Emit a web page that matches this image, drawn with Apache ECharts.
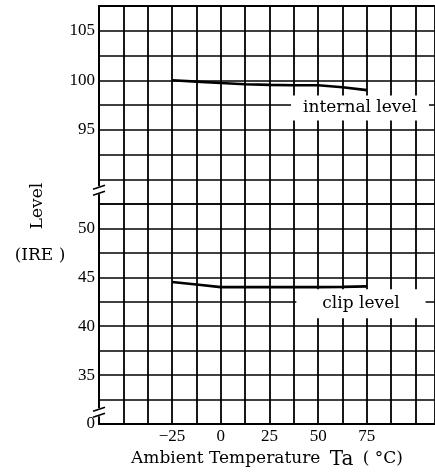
<!DOCTYPE html>
<html><head><meta charset="utf-8">
<script src="https://cdn.jsdelivr.net/npm/echarts/dist/echarts.min.js"></script>
<style>html,body{margin:0;padding:0;background:#fff}#c{width:435px;height:474px}</style>
</head><body><div id="c"></div>
<script>
// ---- data ----
const temps = [-25, -12.5, 0, 12.5, 25, 37.5, 50, 62.5, 75];
const internalLevel = [100.0, 99.86, 99.72, 99.6, 99.53, 99.5, 99.5, 99.3, 99.0];
const clipLevel = [44.52, 44.26, 44.0, 44.0, 44.0, 44.0, 44.0, 44.02, 44.08];
const xTickLabels = {'-25': '\u221225', '0': '0', '25': '25', '50': '50', '75': '75'};
const upperTickLabels = [95, 100, 105];
const lowerTickLabels = [35, 40, 45, 50];
const lowerZeroValue = 30;   // broken axis: the bottom line is labelled 0
const seriesNames = ['internal level', 'clip level'];
const yAxisTitle = 'Level';
const yAxisUnit = '(IRE )';
const xAxisTitle = ['Ambient Temperature', 'Ta', '( \u00b0C)'];

// ---- chart ----
const SERIF = "'DejaVu Serif'";
const NUM = "'Liberation Serif'";
const chart = echarts.init(document.getElementById('c'), null, {renderer: 'canvas'});
const vGrid = {show: true, lineStyle: {color: '#000', width: 1.8}};
const hGrid = {show: true, lineStyle: {color: '#000', width: 1.5}};
const axisLine = {show: true, onZero: false, lineStyle: {color: '#000', width: 2}};
const xBase = {type: 'value', min: -62.5, max: 110, interval: 12.5, axisTick: {show: false}, splitLine: vGrid, axisLine: axisLine};
const yBase = {type: 'value', interval: 2.5, axisTick: {show: false}, splitLine: hGrid, axisLine: axisLine};
const labelStyle = {color: '#000', fontFamily: NUM, fontSize: 17};

chart.setOption({
  animation: false,
  backgroundColor: '#fff',
  grid: [
    {left: 99, right: 0, top: 6, height: 198, outerBoundsMode: 'none', containLabel: false},
    {left: 99, right: 0, top: 204, height: 220, outerBoundsMode: 'none', containLabel: false}
  ],
  xAxis: [
    Object.assign({}, xBase, {gridIndex: 0, position: 'top', axisLabel: {show: false}}),
    Object.assign({}, xBase, {gridIndex: 1, position: 'bottom',
      axisLabel: Object.assign({}, labelStyle, {margin: 4, formatter: v => xTickLabels[String(v)] || ''}),
      name: '{a|' + xAxisTitle[0] + '} {b|' + xAxisTitle[1] + '} {a|' + xAxisTitle[2] + '}',
      nameLocation: 'middle', nameGap: 24,
      nameTextStyle: {rich: {
        a: {fontFamily: SERIF, fontSize: 17, color: '#000', padding: [0, 3, 0, 3]},
        b: {fontFamily: SERIF, fontSize: 20, color: '#000', padding: [2, 3, 0, 3]}
      }}
    })
  ],
  yAxis: [
    Object.assign({}, yBase, {gridIndex: 0, min: 87.5, max: 107.5,
      axisLabel: Object.assign({}, labelStyle, {margin: 4, formatter: v => upperTickLabels.includes(v) ? String(v) : ''})}),
    Object.assign({}, yBase, {gridIndex: 1, min: 30, max: 52.5,
      axisLabel: Object.assign({}, labelStyle, {margin: 4, formatter: v => v === lowerZeroValue ? '0' : (lowerTickLabels.includes(v) ? String(v) : '')})})
  ],
  series: [
    {name: seriesNames[0], type: 'line', xAxisIndex: 0, yAxisIndex: 0, showSymbol: false, silent: true,
     lineStyle: {color: '#000', width: 2.6}, data: temps.map((t, i) => [t, internalLevel[i]]), z: 5},
    {name: seriesNames[1], type: 'line', xAxisIndex: 1, yAxisIndex: 1, showSymbol: false, silent: true,
     lineStyle: {color: '#000', width: 2.6}, data: temps.map((t, i) => [t, clipLevel[i]]), z: 5}
  ]
});

function breakMark(p) {
  const x = p[0], y = p[1];
  return [
    {type: 'rect', z: 100, shape: {x: x - 3, y: y - 4, width: 6, height: 8}, style: {fill: '#fff'}},
    {type: 'line', z: 101, shape: {x1: x - 6, y1: y - 1, x2: x + 6, y2: y - 5}, style: {stroke: '#000', lineWidth: 1.6}},
    {type: 'line', z: 101, shape: {x1: x - 6, y1: y + 5, x2: x + 6, y2: y + 1}, style: {stroke: '#000', lineWidth: 1.6}}
  ];
}
function boxText(text, p, pad) {
  return {type: 'text', z: 100, x: p[0], y: p[1],
    style: {text: text, font: '17px ' + SERIF, fill: '#000', align: 'center', verticalAlign: 'middle',
            backgroundColor: '#fff', padding: pad}};
}
const upBreak = chart.convertToPixel({gridIndex: 0}, [-62.5, 88.9]);
const lowBreak = chart.convertToPixel({gridIndex: 1}, [-62.5, 31.2]);
const intPos = chart.convertToPixel({gridIndex: 0}, [71.5, 97.2]);
const clipPos = chart.convertToPixel({gridIndex: 1}, [72, 42.3]);
const g = [].concat(breakMark(upBreak), breakMark(lowBreak), [
  boxText(seriesNames[0], intPos, [4, 12]),
  boxText(seriesNames[1], clipPos, [6, 26]),
  {type: 'text', z: 100, x: 38, y: 206, rotation: Math.PI / 2,
   style: {text: yAxisTitle, font: '17px ' + SERIF, fill: '#000', align: 'center', verticalAlign: 'middle'}},
  {type: 'text', z: 100, x: 40, y: 256,
   style: {text: yAxisUnit, font: '17px ' + SERIF, fill: '#000', align: 'center', verticalAlign: 'middle'}}
]);
chart.setOption({graphic: g});
</script>
</body></html>
